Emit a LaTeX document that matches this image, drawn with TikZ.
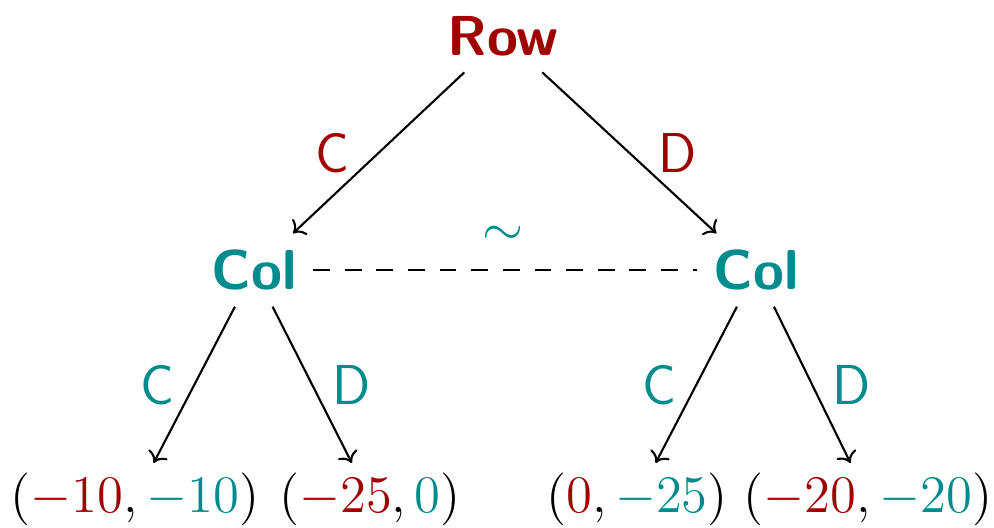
\documentclass[tikz,border=0pt]{standalone}
\usepackage{fix-cm}
\usepackage{amsmath,amssymb}
\usepackage{xcolor}
\usepackage{tikz}
\usetikzlibrary{arrows.meta}
\definecolor{ink}{HTML}{000000}
\definecolor{rowred}{HTML}{A00000}
\definecolor{colteal}{HTML}{008C8C}
\tikzset{
  edge/.style={draw=ink, line width=0.6pt, ->},
  same/.style={draw=ink, line width=0.6pt, dash pattern=on 4.8pt off 4.2pt},
  player/.style={font=\fontsize{16}{19}\selectfont\sffamily\bfseries, inner sep=4.5pt},
  move/.style={font=\fontsize{16}{19}\selectfont\sffamily, inner sep=2pt},
  payoff/.style={font=\fontsize{15}{18}\selectfont, inner sep=2.5pt, anchor=base},
}
\begin{document}
\begin{tikzpicture}[x=0.01cm,y=-0.01cm]
  \useasboundingbox (0,0) rectangle (994,527);

  \node[player, text=rowred] (row) at (503,36) {Row};
  \node[player, text=colteal] (colC) at (254,270) {Col};
  \node[player, text=colteal] (colD) at (756,270) {Col};

  \node[payoff] (cc) at (135,512) {$(\textcolor{rowred}{-10}, \textcolor{colteal}{-10})$};
  \node[payoff] (cd) at (370,512) {$(\textcolor{rowred}{-25}, \textcolor{colteal}{0})$};
  \node[payoff] (dc) at (637,512) {$(\textcolor{rowred}{0}, \textcolor{colteal}{-25})$};
  \node[payoff] (dd) at (868,512) {$(\textcolor{rowred}{-20}, \textcolor{colteal}{-20})$};

  \draw[edge] (row) -- node[move, text=rowred, midway, left=6pt] (rowC) {C} (colC);
  \draw[edge] (row) -- node[move, text=rowred, midway, right=6pt] (rowD) {D} (colD);

  \draw[edge] (colC) -- node[move, text=colteal, midway, left=3.5pt] (colCC) {C} (cc);
  \draw[edge] (colC) -- node[move, text=colteal, midway, right=3.5pt] (colCD) {D} (cd);
  \draw[edge] (colD) -- node[move, text=colteal, midway, left=3.5pt] (colDC) {C} (dc);
  \draw[edge] (colD) -- node[move, text=colteal, midway, right=3.5pt] (colDD) {D} (dd);

  % same information set
  \draw[same] (colC) -- (colD);
  \node[font=\fontsize{15}{18}\selectfont, text=colteal] (sim) at (503,236) {$\sim$};
\end{tikzpicture}
\end{document}
